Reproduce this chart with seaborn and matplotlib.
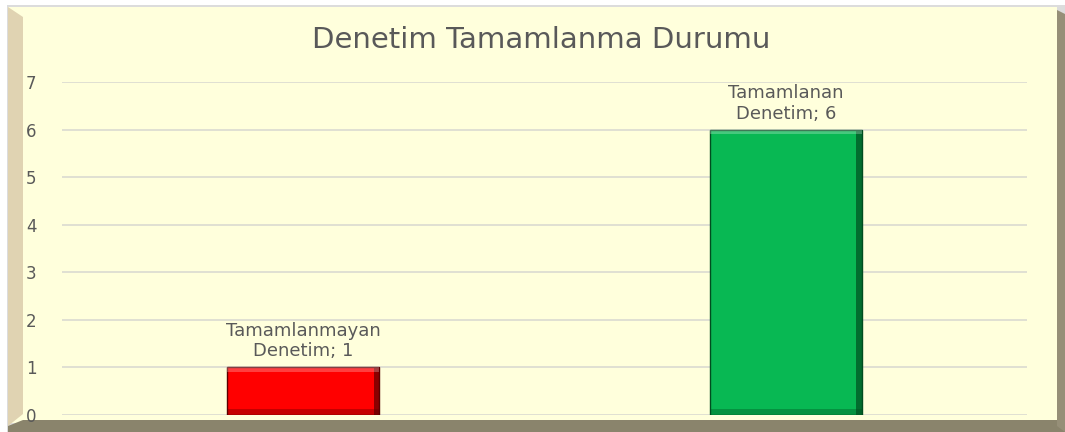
import numpy as np
import pandas as pd
import matplotlib
matplotlib.use("Agg")
import matplotlib.pyplot as plt
from matplotlib.patches import Polygon, Rectangle
import seaborn as sns

categories = ["Tamamlanmayan\nDenetim", "Tamamlanan\nDenetim"]
values = [1, 6]
bar_colors = ["#FF0000", "#08B853"]
edge_colors = ["#5A0000", "#004D1F"]
yticks = [0, 1, 2, 3, 4, 5, 6, 7]

BG = "#FFFFDC"
TXT = "#595959"

sns.set_theme(style="white")
plt.rcParams["font.family"] = ["DejaVu Sans"]

W, H = 1065, 432
fig = plt.figure(figsize=(W / 100, H / 100), dpi=100)
fig.patch.set_facecolor("white")

def px(x, y):
    return (x / W, 1 - y / H)

def frame_piece(pts, color):
    fig.add_artist(Polygon([px(*p) for p in pts], closed=True, transform=fig.transFigure,
                           facecolor=color, edgecolor="none", zorder=-5))

# chart frame with bevel
frame_piece([(7, 5), (1065, 5), (1065, 432), (7, 432)], "#DCDCDC")
frame_piece([(8, 7), (1057, 7), (1057, 423), (8, 423)], BG)
frame_piece([(8, 7), (23, 17), (23, 414), (8, 426)], "#E0D3B2")
frame_piece([(8, 426), (23, 420), (1057, 420), (1065, 426), (1065, 432), (8, 432)], "#8A846C")
frame_piece([(1057, 10), (1065, 14), (1065, 432), (1057, 426)], "#968F78")

ax = fig.add_axes([62 / W, 1 - 415 / H, (1027 - 62) / W, (415 - 82) / H])
ax.set_facecolor("none")
ax.set_zorder(5)

df = pd.DataFrame({"cat": categories, "val": values})
sns.barplot(data=df, x="cat", y="val", hue="cat", palette=bar_colors,
            width=0.315, legend=False, ax=ax, zorder=3, saturation=1)

bars = list(ax.patches)
for p, ec in zip(bars, edge_colors):
    p.set_edgecolor(ec)
    p.set_linewidth(1.0)
    x0, w, h = p.get_x(), p.get_width(), p.get_height()
    # bevel shading: dark right/bottom, light top
    ax.add_patch(Rectangle((x0 + w * 0.965, 0), w * 0.035, h, facecolor=ec, alpha=0.7, zorder=4, lw=0))
    ax.add_patch(Rectangle((x0, 0), w, 0.12, facecolor=ec, alpha=0.35, zorder=4, lw=0))
    ax.add_patch(Rectangle((x0, h - 0.1), w, 0.1, facecolor="white", alpha=0.25, zorder=4, lw=0))

for p, cat, v in zip(bars, categories, values):
    ax.annotate(f"{cat}; {v}", (p.get_x() + p.get_width() / 2, p.get_height()),
                xytext=(0, 5), textcoords="offset points", ha="center", va="bottom",
                fontsize=13, color=TXT, linespacing=1.2)

ax.set_ylim(0, 7)
ax.set_yticks(yticks)
ax.yaxis.grid(True, color="#DADAD0", linewidth=1.2, zorder=0)
ax.set_axisbelow(True)
ax.set_xticks([])
ax.set_xlabel("")
ax.set_ylabel("")
for s in ax.spines.values():
    s.set_visible(False)
ax.tick_params(axis="y", length=0, pad=26, labelsize=12, labelcolor=TXT)
for lbl in ax.get_yticklabels():
    lbl.set_horizontalalignment("left")

fig.text(541 / W, 1 - 40 / H, "Denetim Tamamlanma Durumu", ha="center", va="center",
         fontsize=21, color=TXT)

fig.savefig("out.png", dpi=100)
